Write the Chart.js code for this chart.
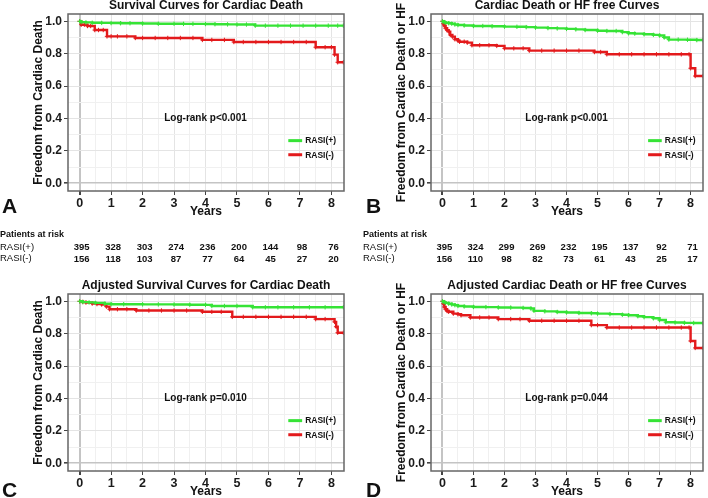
<!DOCTYPE html>
<html>
<head>
<meta charset="utf-8">
<script src="https://cdn.jsdelivr.net/npm/chart.js@4.4.1/dist/chart.umd.min.js"></script>
<style>
  html, body { margin: 0; padding: 0; background: #fff; }
  body { width: 708px; height: 498px; position: relative; overflow: hidden; }
  canvas { position: absolute; }
</style>
</head>
<body>
<canvas id="chartA" width="354" height="280" style="left:0px;top:0px"></canvas>
<canvas id="chartB" width="345" height="280" style="left:363px;top:0px"></canvas>
<canvas id="chartC" width="354" height="219" style="left:0px;top:280px"></canvas>
<canvas id="chartD" width="345" height="219" style="left:363px;top:280px"></canvas>
<script>
const FONT = "'Liberation Sans', Arial, sans-serif";

// tick positions / labels
const xGridValues = [0, 0.5, 1, 1.5, 2, 2.5, 3, 3.5, 4, 4.5, 5, 5.5, 6, 6.5, 7, 7.5, 8];
const xTickLabels = ["0", "1", "2", "3", "4", "5", "6", "7", "8"];
const yGridValues = [0, 0.1, 0.2, 0.3, 0.4, 0.5, 0.6, 0.7, 0.8, 0.9, 1.0];
const yTickLabels = ["0.0", "0.2", "0.4", "0.6", "0.8", "1.0"];

const groupLabels = ["RASI(+)", "RASI(-)"];

// Panel A - Survival Curves for Cardiac Death
const aPosX = [0, 0.05, 0.2, 0.4, 0.7, 1.0, 1.3, 1.6, 2.0, 2.5, 3.0, 3.3, 3.6, 4.0, 4.3, 4.7, 5.0, 5.3, 5.58, 5.9, 6.3, 6.7, 7.1, 7.5, 7.9, 8.2, 8.38];
const aPosY = [1.0, 0.995, 0.993, 0.991, 0.99, 0.989, 0.988, 0.988, 0.986, 0.985, 0.985, 0.984, 0.984, 0.983, 0.982, 0.981, 0.98, 0.98, 0.973, 0.973, 0.973, 0.973, 0.973, 0.973, 0.973, 0.973, 0.973];
const aNegX = [0, 0.05, 0.15, 0.25, 0.35, 0.48, 0.6, 0.75, 0.87, 1.0, 1.2, 1.5, 1.77, 2.0, 2.4, 2.8, 3.2, 3.6, 3.9, 4.2, 4.6, 4.9, 5.2, 5.6, 6.0, 6.4, 6.8, 7.2, 7.5, 7.8, 8.0, 8.1, 8.2, 8.38];
const aNegY = [1.0, 0.979, 0.979, 0.971, 0.971, 0.946, 0.946, 0.946, 0.907, 0.907, 0.907, 0.907, 0.897, 0.897, 0.897, 0.897, 0.897, 0.897, 0.885, 0.885, 0.885, 0.872, 0.872, 0.872, 0.872, 0.872, 0.872, 0.872, 0.84, 0.84, 0.84, 0.794, 0.747, 0.747];

// Panel B - Cardiac Death or HF free Curves
const bPosX = [0, 0.05, 0.1, 0.2, 0.3, 0.4, 0.5, 0.7, 1.0, 1.3, 1.6, 2.0, 2.4, 2.7, 3.0, 3.4, 3.7, 4.0, 4.3, 4.6, 5.0, 5.3, 5.6, 5.8, 6.0, 6.2, 6.5, 6.8, 7.0, 7.15, 7.3, 7.6, 7.9, 8.2, 8.4];
const bPosY = [1.0, 0.995, 0.991, 0.988, 0.985, 0.98, 0.977, 0.974, 0.971, 0.971, 0.969, 0.967, 0.966, 0.964, 0.961, 0.958, 0.956, 0.953, 0.95, 0.946, 0.942, 0.94, 0.94, 0.933, 0.926, 0.924, 0.92, 0.916, 0.912, 0.9, 0.887, 0.887, 0.886, 0.884, 0.883];
const bNegX = [0, 0.03, 0.06, 0.1, 0.15, 0.2, 0.25, 0.32, 0.4, 0.5, 0.55, 0.7, 0.8, 0.95, 1.2, 1.5, 1.75, 2.0, 2.3, 2.6, 2.8, 3.2, 3.6, 4.0, 4.4, 4.9, 5.1, 5.3, 5.7, 6.1, 6.5, 6.9, 7.3, 7.7, 7.95, 8.0, 8.15, 8.4];
const bNegY = [1.0, 0.985, 0.972, 0.957, 0.945, 0.936, 0.916, 0.905, 0.889, 0.88, 0.874, 0.874, 0.868, 0.852, 0.852, 0.852, 0.848, 0.833, 0.833, 0.833, 0.819, 0.819, 0.819, 0.819, 0.819, 0.81, 0.81, 0.796, 0.796, 0.796, 0.796, 0.796, 0.796, 0.796, 0.796, 0.71, 0.662, 0.662];

// Panel C - Adjusted Survival Curves for Cardiac Death
const cPosX = [0, 0.1, 0.3, 0.5, 0.8, 1.0, 1.4, 2.0, 2.5, 3.0, 3.5, 4.0, 4.2, 4.6, 5.0, 5.5, 5.9, 6.3, 6.8, 7.3, 7.8, 8.38];
const cPosY = [1.0, 0.995, 0.993, 0.99, 0.985, 0.982, 0.982, 0.981, 0.981, 0.98, 0.979, 0.978, 0.971, 0.971, 0.971, 0.963, 0.963, 0.963, 0.963, 0.963, 0.963, 0.963];
const cNegX = [0, 0.1, 0.2, 0.4, 0.55, 0.7, 0.85, 0.95, 1.2, 1.5, 1.8, 2.2, 2.6, 3.0, 3.4, 3.9, 4.2, 4.5, 4.85, 5.2, 5.6, 6.0, 6.4, 6.8, 7.2, 7.5, 7.8, 8.1, 8.15, 8.2, 8.38];
const cNegY = [1.0, 0.996, 0.992, 0.986, 0.983, 0.98, 0.967, 0.951, 0.951, 0.951, 0.943, 0.943, 0.943, 0.943, 0.943, 0.935, 0.935, 0.935, 0.904, 0.904, 0.904, 0.904, 0.904, 0.904, 0.904, 0.89, 0.89, 0.873, 0.843, 0.806, 0.806];

// Panel D - Adjusted Cardiac Death or HF free Curves
const dPosX = [0, 0.05, 0.1, 0.2, 0.3, 0.4, 0.5, 0.7, 1.0, 1.4, 1.8, 2.2, 2.6, 2.85, 2.95, 3.3, 3.7, 4.0, 4.4, 4.8, 5.0, 5.4, 5.8, 6.0, 6.3, 6.5, 6.8, 7.0, 7.2, 7.5, 7.8, 8.1, 8.4];
const dPosY = [1.0, 0.995, 0.99, 0.985, 0.98, 0.976, 0.971, 0.968, 0.965, 0.964, 0.962, 0.961, 0.959, 0.955, 0.941, 0.938, 0.934, 0.931, 0.928, 0.926, 0.924, 0.921, 0.917, 0.914, 0.908, 0.902, 0.895, 0.884, 0.871, 0.869, 0.867, 0.866, 0.865];
const dNegX = [0, 0.03, 0.06, 0.1, 0.15, 0.2, 0.35, 0.5, 0.6, 0.9, 1.2, 1.5, 1.8, 2.2, 2.5, 2.8, 3.2, 3.6, 4.0, 4.4, 4.8, 5.0, 5.3, 5.7, 6.1, 6.5, 6.9, 7.3, 7.7, 7.95, 8.0, 8.15, 8.4];
const dNegY = [1.0, 0.985, 0.965, 0.951, 0.94, 0.935, 0.924, 0.92, 0.914, 0.9, 0.9, 0.9, 0.89, 0.89, 0.89, 0.88, 0.88, 0.88, 0.88, 0.88, 0.853, 0.853, 0.838, 0.838, 0.838, 0.838, 0.838, 0.838, 0.838, 0.838, 0.755, 0.712, 0.712];

// Patients at risk (at years 0..8)
const riskYears = [0, 1, 2, 3, 4, 5, 6, 7, 8];
const riskAPos = [395, 328, 303, 274, 236, 200, 144, 98, 76];
const riskANeg = [156, 118, 103, 87, 77, 64, 45, 27, 20];
const riskBPos = [395, 324, 299, 269, 232, 195, 137, 92, 71];
const riskBNeg = [156, 110, 98, 82, 73, 61, 43, 25, 17];

const GREEN = "#36e336";
const RED = "#e31a1c";

function toPoints(xs, ys) {
    return xs.map((x, i) => ({ x: x, y: ys[i] }));
}

const decorPlugin = {
    id: "decor",
    afterDatasetsDraw(chart, args, o) {
        const { ctx, chartArea: a, scales } = chart;
        const x = scales.x, y = scales.y;
        ctx.save();

        // panel border
        ctx.strokeStyle = "#666";
        ctx.lineWidth = 1.5;
        ctx.strokeRect(a.left, a.top, a.right - a.left, a.bottom - a.top);

        ctx.fillStyle = "#111";
        ctx.textAlign = "center";
        ctx.textBaseline = "middle";

        // title
        ctx.font = "bold 12px " + FONT;
        ctx.fillText(o.title, (a.left + a.right) / 2, 5.5);

        // log-rank text
        ctx.font = "bold 10px " + FONT;
        ctx.fillText(o.pText, x.getPixelForValue(4), y.getPixelForValue(0.4));

        // legend inside the panel
        chart.data.datasets.forEach((ds, i) => {
            const ly = y.getPixelForValue(o.legendY[i]);
            const x0 = x.getPixelForValue(6.63);
            const x1 = x.getPixelForValue(7.07);
            ctx.strokeStyle = ds.borderColor;
            ctx.lineWidth = 3;
            ctx.beginPath();
            ctx.moveTo(x0, ly);
            ctx.lineTo(x1, ly);
            ctx.stroke();
            ctx.fillStyle = "#111";
            ctx.textAlign = "left";
            ctx.font = "bold 8.5px " + FONT;
            ctx.fillText(ds.label, x1 + 3, ly + 0.5);
        });

        // panel letter
        ctx.textAlign = "left";
        ctx.textBaseline = "alphabetic";
        ctx.font = "bold 21px " + FONT;
        ctx.fillText(o.letter, o.letterX, o.letterY);

        // patients at risk table
        if (o.risk) {
            ctx.textBaseline = "middle";
            ctx.font = "bold 9px " + FONT;
            ctx.fillText("Patients at risk", 0, 234.5);
            ctx.font = "9.5px " + FONT;
            ctx.fillText(groupLabels[0], 0, 247);
            ctx.fillText(groupLabels[1], 0, 258.5);
            ctx.textAlign = "center";
            ctx.font = "bold 9.5px " + FONT;
            riskYears.forEach((yr, i) => {
                const px = x.getPixelForValue(yr) + 2;
                ctx.fillText(String(o.risk[0][i]), px, 247.5);
                ctx.fillText(String(o.risk[1][i]), px, 259);
            });
        }
        ctx.restore();
    }
};

function makePanel(canvasId, cfg) {
    const ctx = document.getElementById(canvasId).getContext("2d");
    return new Chart(ctx, {
        type: "line",
        data: {
            datasets: [
                {
                    label: groupLabels[0],
                    data: toPoints(cfg.posX, cfg.posY),
                    borderColor: GREEN,
                    backgroundColor: GREEN,
                    borderWidth: 2.4,
                    stepped: true,
                    pointStyle: "cross",
                    pointRadius: 2.2,
                    pointBorderWidth: 1,
                    pointBorderColor: GREEN,
                    fill: false
                },
                {
                    label: groupLabels[1],
                    data: toPoints(cfg.negX, cfg.negY),
                    borderColor: RED,
                    backgroundColor: RED,
                    borderWidth: 2.4,
                    stepped: true,
                    pointStyle: "cross",
                    pointRadius: 2.2,
                    pointBorderWidth: 1,
                    pointBorderColor: RED,
                    fill: false
                }
            ]
        },
        options: {
            responsive: false,
            animation: false,
            events: [],
            layout: {
                padding: { top: 14, left: 0, right: cfg.padRight, bottom: cfg.padBottom }
            },
            plugins: {
                legend: { display: false },
                tooltip: { enabled: false },
                decor: {
                    title: cfg.title,
                    pText: cfg.pText,
                    letter: cfg.letter,
                    letterX: cfg.letterX,
                    letterY: cfg.letterY,
                    legendY: [0.263, 0.176],
                    risk: cfg.risk
                }
            },
            scales: {
                x: {
                    type: "linear",
                    min: -0.37,
                    max: 8.4,
                    afterBuildTicks: (s) => { s.ticks = xGridValues.map(v => ({ value: v })); },
                    afterFit: (s) => { s.height = 28; },
                    ticks: {
                        autoSkip: false,
                        maxRotation: 0,
                        padding: 1,
                        color: "#1a1a1a",
                        font: { size: 12.5, weight: "bold" },
                        callback: (v) => Number.isInteger(v) ? xTickLabels[v] : ""
                    },
                    grid: {
                        color: (c) => c.tick && c.tick.value === 0 ? "#c4c4c4" : (c.tick && Number.isInteger(c.tick.value) ? "#e4e4e4" : "#f0f0f0"),
                        lineWidth: (c) => c.tick && c.tick.value === 0 ? 2 : 1,
                        tickColor: (c) => c.tick && Number.isInteger(c.tick.value) ? "#444" : "rgba(0,0,0,0)",
                        tickLength: 4
                    },
                    border: { display: false },
                    title: {
                        display: true,
                        text: "Years",
                        color: "#111",
                        font: { size: 12, weight: "bold", lineHeight: 1.2 },
                        padding: { top: 0, bottom: 0 }
                    }
                },
                y: {
                    type: "linear",
                    min: -0.048,
                    max: 1.045,
                    afterBuildTicks: (s) => { s.ticks = yGridValues.map(v => ({ value: v })); },
                    afterFit: (s) => { s.width = 68; },
                    ticks: {
                        autoSkip: false,
                        padding: 2,
                        color: "#1a1a1a",
                        font: { size: 12, weight: "bold" },
                        callback: (v) => {
                            const k = Math.round(v * 10);
                            return k % 2 === 0 ? yTickLabels[k / 2] : "";
                        }
                    },
                    grid: {
                        color: (c) => c.tick && Math.abs(c.tick.value) < 1e-9 ? "#c4c4c4" : (c.tick && Math.round(c.tick.value * 10) % 2 === 0 ? "#e4e4e4" : "#f0f0f0"),
                        lineWidth: (c) => c.tick && Math.abs(c.tick.value) < 1e-9 ? 1.6 : 1,
                        tickColor: (c) => c.tick && Math.round(c.tick.value * 10) % 2 === 0 ? "#444" : "rgba(0,0,0,0)",
                        tickLength: 4
                    },
                    border: { display: false },
                    title: {
                        display: true,
                        text: cfg.yTitle,
                        color: "#111",
                        font: { size: 12, weight: "bold", lineHeight: 1.2 },
                        padding: { top: 31, bottom: 0 }
                    }
                }
            }
        },
        plugins: [decorPlugin]
    });
}

Chart.defaults.font.family = FONT;

makePanel("chartA", {
    posX: aPosX, posY: aPosY, negX: aNegX, negY: aNegY,
    title: "Survival Curves for Cardiac Death",
    yTitle: "Freedom from Cardiac Death",
    pText: "Log-rank p<0.001",
    letter: "A", letterX: 2, letterY: 213,
    padRight: 10, padBottom: 61,
    risk: [riskAPos, riskANeg]
});

makePanel("chartB", {
    posX: bPosX, posY: bPosY, negX: bNegX, negY: bNegY,
    title: "Cardiac Death or HF free Curves",
    yTitle: "Freedom from Cardiac Death or HF",
    pText: "Log-rank p<0.001",
    letter: "B", letterX: 3, letterY: 213,
    padRight: 1, padBottom: 61,
    risk: [riskBPos, riskBNeg]
});

makePanel("chartC", {
    posX: cPosX, posY: cPosY, negX: cNegX, negY: cNegY,
    title: "Adjusted Survival Curves for Cardiac Death",
    yTitle: "Freedom from Cardiac Death",
    pText: "Log-rank p=0.010",
    letter: "C", letterX: 2, letterY: 217,
    padRight: 10, padBottom: 0,
    risk: null
});

makePanel("chartD", {
    posX: dPosX, posY: dPosY, negX: dNegX, negY: dNegY,
    title: "Adjusted Cardiac Death or HF free Curves",
    yTitle: "Freedom from Cardiac Death or HF",
    pText: "Log-rank p=0.044",
    letter: "D", letterX: 3, letterY: 217,
    padRight: 1, padBottom: 0,
    risk: null
});
</script>
</body>
</html>
